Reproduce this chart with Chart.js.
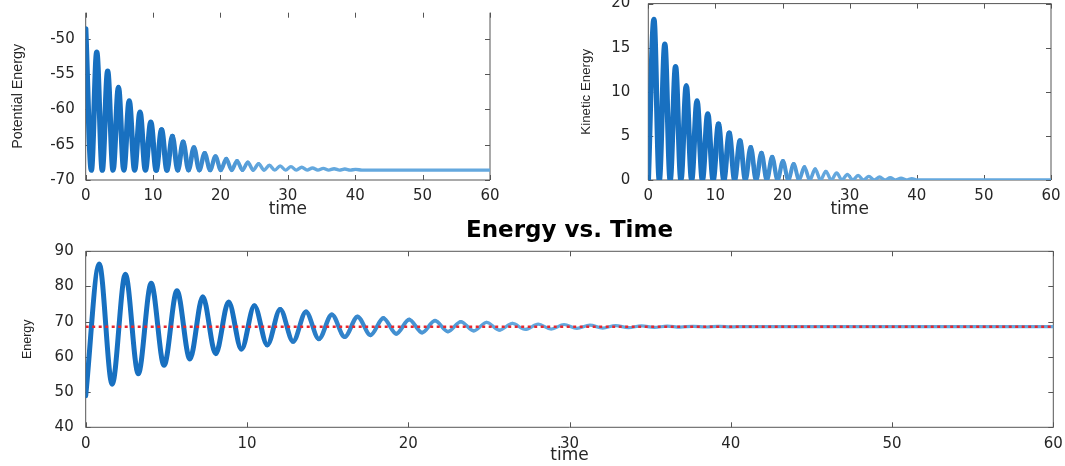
<!DOCTYPE html>
<html>
<head>
<meta charset="utf-8">
<script src="https://cdn.jsdelivr.net/npm/chart.js@4.4.0/dist/chart.umd.min.js"></script>
<style>
  body { margin: 0; background: #fff; width: 1065px; height: 466px; position: relative; overflow: hidden; }
  canvas { position: absolute; }
</style>
</head>
<body>
<canvas id="peChart" width="530" height="220" style="left:0;top:0;width:530px;height:220px"></canvas>
<canvas id="keChart" width="535" height="220" style="left:530px;top:0;width:535px;height:220px"></canvas>
<canvas id="energyChart" width="1065" height="251" style="left:0;top:215px;width:1065px;height:251px"></canvas>
<script>
// extrema of the oscillation (peak / trough times)
const time = [0, 0.84, 1.64, 2.46, 3.26, 4.06, 4.86, 5.66, 6.46, 7.26, 8.06, 8.86, 9.66, 10.46,
  11.26, 12.06, 12.86, 13.66, 14.46, 15.26, 16.06, 16.86, 17.66, 18.46, 19.26, 20.06, 20.86,
  21.66, 22.46, 23.26, 24.06, 24.86, 25.66, 26.46, 27.26, 28.06, 28.86, 29.66, 30.46, 31.26,
  32.06, 32.86, 33.66, 34.46, 35.26, 36.06, 36.86, 37.66, 38.46, 39.26, 40.06, 41.0, 60];

const potentialEnergy = [-48.6, -68.6, -51.9, -68.6, -54.6, -68.6, -56.9, -68.6, -58.8, -68.6,
  -60.4, -68.6, -61.8, -68.6, -62.9, -68.6, -63.8, -68.6, -64.6, -68.6, -65.4, -68.6, -66.2,
  -68.6, -66.65, -68.6, -67.0, -68.6, -67.3, -68.6, -67.5, -68.6, -67.7, -68.6, -67.9, -68.6,
  -68.0, -68.6, -68.1, -68.6, -68.2, -68.6, -68.3, -68.6, -68.35, -68.6, -68.4, -68.6, -68.45,
  -68.6, -68.5, -68.6, -68.6];

const kineticEnergy = [0, 18.2, 0, 15.4, 0, 12.85, 0, 10.7, 0, 8.97, 0, 7.5, 0, 6.33, 0, 5.31,
  0, 4.45, 0, 3.69, 0, 3.05, 0, 2.6, 0, 2.15, 0, 1.81, 0, 1.47, 0, 1.24, 0, 0.98, 0, 0.79, 0,
  0.64, 0, 0.53, 0, 0.41, 0, 0.34, 0, 0.26, 0, 0.19, 0, 0.15, 0, 0, 0];

const totalEnergy = [49.0, 86.4, 52.2, 83.5, 55.2, 80.9, 57.6, 78.8, 59.4, 77.1, 60.9, 75.6,
  62.2, 74.5, 63.4, 73.5, 64.4, 72.8, 65.1, 72.0, 65.7, 71.4, 66.2, 71.0, 66.6, 70.6, 66.9,
  70.3, 67.2, 70.0, 67.4, 69.8, 67.6, 69.5, 67.8, 69.3, 67.9, 69.2, 68.1, 69.0, 68.2, 68.9,
  68.3, 68.8, 68.4, 68.75, 68.45, 68.7, 68.5, 68.65, 68.55, 68.6, 68.6];

const energyLevel = 68.6;

const timeTicks = [0, 10, 20, 30, 40, 50, 60];
const peTicks = [-70, -65, -60, -55, -50];
const keTicks = [0, 5, 10, 15, 20];
const energyTicks = [40, 50, 60, 70, 80, 90];

const tickFont = { family: 'DejaVu Sans', size: 15 };
const labelFamily = '"Liberation Sans", sans-serif';
const textColor = '#262626';

// boxed axes with inward tick marks, matlab style
const framePlugin = {
  id: 'frame',
  beforeDatasetsDraw(chart, args, opts) {
    const { ctx, chartArea: a, scales: { x, y } } = chart;
    const len = 5;
    ctx.save();
    ctx.strokeStyle = '#555';
    ctx.lineWidth = 1;
    ctx.beginPath();
    ctx.moveTo(a.left, a.top); ctx.lineTo(a.left, a.bottom);
    ctx.lineTo(a.right, a.bottom); ctx.lineTo(a.right, a.top);
    if (opts.top) ctx.lineTo(a.left, a.top);
    x.ticks.forEach(t => {
      const px = Math.round(x.getPixelForValue(t.value)) + 0.5;
      ctx.moveTo(px, a.bottom); ctx.lineTo(px, a.bottom - len);
      ctx.moveTo(px, a.top); ctx.lineTo(px, a.top + len);
    });
    y.ticks.forEach(t => {
      const py = Math.round(y.getPixelForValue(t.value)) + 0.5;
      ctx.moveTo(a.left, py); ctx.lineTo(a.left + len, py);
      ctx.moveTo(a.right, py); ctx.lineTo(a.right - len, py);
    });
    ctx.stroke();
    ctx.restore();
  }
};

function fade(t) {
  return Math.min(1, Math.max(0, (t - 10) / 16));
}
function waveColor(c) {
  const k = fade(c.p0.parsed.x);
  const r = Math.round(24 + 76 * k), g = Math.round(112 + 56 * k), b = Math.round(192 + 30 * k);
  return 'rgb(' + r + ',' + g + ',' + b + ')';
}

function wave(values, w0, w1) {
  return {
    data: time.map((t, i) => ({ x: t, y: values[i] })),
    borderColor: 'rgb(24,112,192)',
    borderWidth: w0,
    borderCapStyle: 'round',
    borderJoinStyle: 'round',
    cubicInterpolationMode: 'monotone',
    pointRadius: 0,
    segment: {
      borderColor: waveColor,
      borderWidth: c => w0 - (w0 - w1) * fade(c.p0.parsed.x)
    }
  };
}

function axis(ticks, min, max, fit, title, titleSize, titlePad, gap, horizontal) {
  return {
    type: 'linear',
    min: min,
    max: max,
    afterBuildTicks: s => { s.ticks = ticks.map(v => ({ value: v })); },
    afterFit: s => {
      if (horizontal) { s.height = fit; s.paddingLeft = 0; s.paddingRight = 0; }
      else { s.width = fit; s.paddingTop = 0; s.paddingBottom = 0; }
    },
    grid: { display: false, drawTicks: true, tickLength: gap },
    border: { display: false },
    ticks: { font: tickFont, color: textColor, padding: 0, maxRotation: 0 },
    title: {
      display: true, text: title, color: textColor,
      font: { family: horizontal ? 'DejaVu Sans' : labelFamily, size: titleSize },
      padding: titlePad
    }
  };
}

function makeChart(id, datasets, scales, padding, plugins) {
  return new Chart(document.getElementById(id), {
    type: 'line',
    data: { datasets: datasets },
    options: {
      responsive: false,
      animation: false,
      layout: { padding: padding },
      plugins: Object.assign({ legend: { display: false }, tooltip: { enabled: false }, frame: { top: true } }, plugins || {}),
      scales: scales
    },
    plugins: [framePlugin]
  });
}

makeChart('peChart', [wave(potentialEnergy, 5.4, 3.4)], {
  x: axis(timeTicks, 0, 60, 40, 'time', 17, { top: 0, bottom: 0 }, 7, true),
  y: axis(peTicks, -70, -46.3, 85.7, 'Potential Energy', 14.3, { top: 9, bottom: 0 }, 11, false)
}, { top: 12.7, right: 40, left: 0, bottom: 0 }, { frame: { top: false } });

makeChart('keChart', [wave(kineticEnergy, 5.4, 3.4)], {
  x: axis(timeTicks, 0, 60, 40, 'time', 17, { top: 0, bottom: 0 }, 7, true),
  y: axis(keTicks, 0, 20, 118.3, 'Kinetic Energy', 13.3, { top: 48, bottom: 0 }, 18, false)
}, { top: 3.6, right: 14, left: 0, bottom: 0 });

makeChart('energyChart', [
  {
    data: [{ x: 0, y: energyLevel }, { x: 60, y: energyLevel }],
    borderColor: '#e8262d',
    borderWidth: 2.5,
    borderDash: [3, 3.5],
    pointRadius: 0
  },
  wave(totalEnergy, 5, 3.2)
], {
  x: axis(timeTicks, 0, 60, 38.7, 'time', 17, { top: 0, bottom: 0 }, 8, true),
  y: axis(energyTicks, 40, 90, 85.7, 'Energy', 12.5, { top: 20, bottom: 0 }, 12, false)
}, { top: 0, right: 11.7, left: 0, bottom: 0 }, {
  title: {
    display: true,
    fullSize: false,
    text: 'Energy vs. Time',
    color: '#000',
    font: { family: 'DejaVu Sans', size: 23, weight: 'bold' },
    padding: { top: 2, bottom: 6.7 }
  }
});
</script>
</body>
</html>
